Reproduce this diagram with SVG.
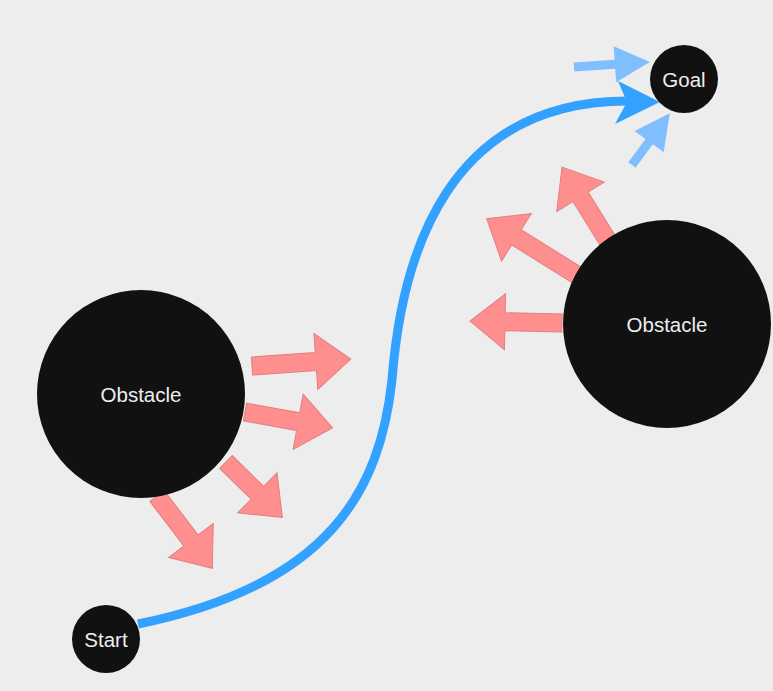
<svg xmlns="http://www.w3.org/2000/svg" width="773" height="691" viewBox="0 0 773 691">
<style>
.node{fill:#111111}
.lbl{font-family:"Liberation Sans",Arial,sans-serif;font-size:20.5px;fill:#eeeeee;text-anchor:middle;dominant-baseline:central}
.force{fill:#ff8f8f;stroke:#e08080;stroke-width:1}
.attr{fill:#80bfff}
.path{fill:none;stroke:#33a1ff;stroke-width:9}
</style>
<rect width="773" height="691" fill="#ededed"/>
<g id="forces">
<polygon class="force" transform="translate(252,366) rotate(-4)" points="0,-9 64,-9 64,-28 99,0 64,28 64,9 0,9"/>
<polygon class="force" transform="translate(245,412) rotate(10.3)" points="0,-9 54,-9 54,-28 89,0 54,28 54,9 0,9"/>
<polygon class="force" transform="translate(226,462) rotate(44.5)" points="0,-9 44,-9 44,-28 79,0 44,28 44,9 0,9"/>
<polygon class="force" transform="translate(157,496) rotate(52.6)" points="0,-9 56,-9 56,-28 91,0 56,28 56,9 0,9"/>
<polygon class="force" transform="translate(562,323) rotate(181.2)" points="0,-9 57,-9 57,-28 92,0 57,28 57,9 0,9"/>
<polygon class="force" transform="translate(580,277) rotate(212)" points="0,-9 75,-9 75,-28 110,0 75,28 75,9 0,9"/>
<polygon class="force" transform="translate(608,241) rotate(238.1)" points="0,-9 52,-9 52,-28 87,0 52,28 52,9 0,9"/>
<polygon class="attr" transform="translate(574,67) rotate(-3.8)" points="0,-4.5 41,-4.5 41,-18 76,0 41,18 41,4.5 0,4.5"/>
<polygon class="attr" transform="translate(632,165) rotate(-53.8)" points="0,-4.5 29,-4.5 29,-18 64,0 29,18 29,4.5 0,4.5"/>
</g>
<g id="connectors">
<path class="path" d="M138,624 C330,585 380,490 392,380 C402,250 450,101 628,101"/>
<polygon fill="#33a1ff" points="660,102 618,81 627,102 615,124"/>
</g>
<g id="obstacle-left"><circle class="node" cx="141" cy="394" r="104"/><text class="lbl" x="141" y="394">Obstacle</text></g>
<g id="obstacle-right"><circle class="node" cx="667" cy="324" r="104"/><text class="lbl" x="667" y="324">Obstacle</text></g>
<g id="start"><circle class="node" cx="106" cy="639" r="34"/><text class="lbl" x="106" y="639">Start</text></g>
<g id="goal"><circle class="node" cx="684" cy="79" r="34"/><text class="lbl" x="684" y="79">Goal</text></g>
</svg>
